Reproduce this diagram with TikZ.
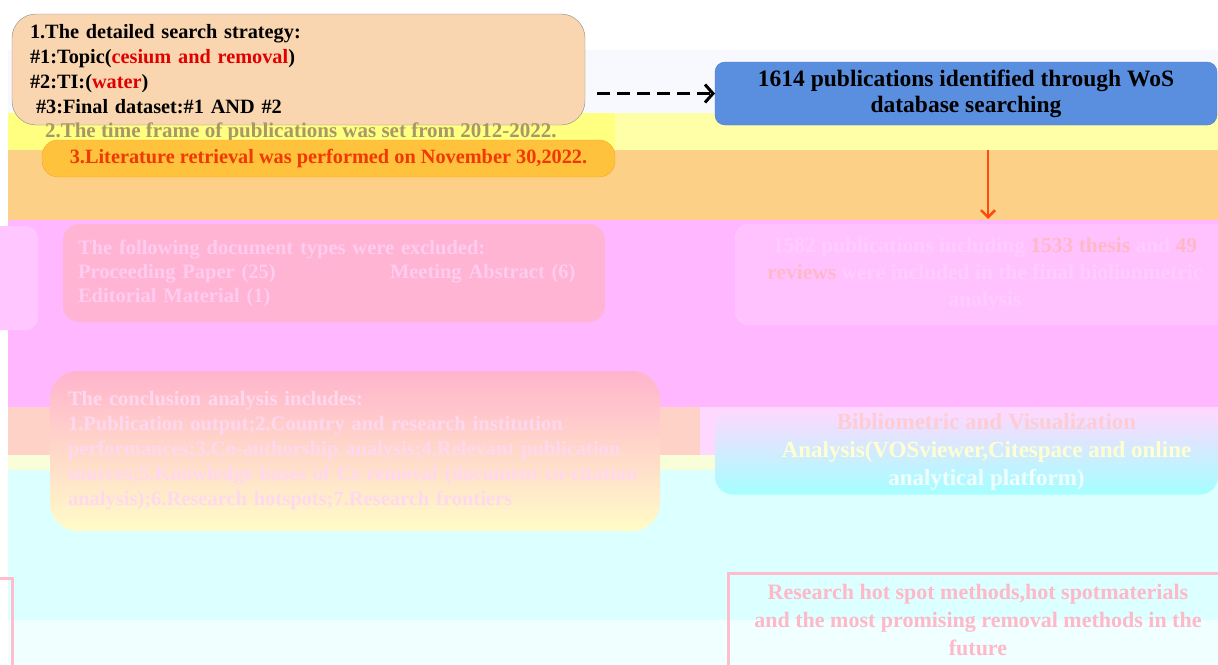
\documentclass[tikz,border=0pt]{standalone}
\usepackage{fontspec}
\setmainfont{Liberation Serif}
\usetikzlibrary{arrows.meta}
\definecolor{bgLav}{HTML}{F8F8FF}
\definecolor{bgYel}{HTML}{FFFFA8}
\definecolor{bgYelB}{HTML}{FFFF80}
\definecolor{bgOra}{HTML}{FDD088}
\definecolor{bgPink}{HTML}{FFB8FF}
\definecolor{bgPeach}{HTML}{FFD2C8}
\definecolor{bgLavB}{HTML}{FFD8FF}
\definecolor{bgLYel}{HTML}{F8FFD8}
\definecolor{bgCyan}{HTML}{DCFFFF}
\definecolor{bgCyanL}{HTML}{F0FFFF}
\definecolor{searchFill}{HTML}{F9D5B0}
\definecolor{searchLine}{HTML}{8A8A8A}
\definecolor{kwRed}{HTML}{E00000}
\definecolor{timeCol}{HTML}{A89868}
\definecolor{retrFill}{HTML}{FFC23C}
\definecolor{retrLine}{HTML}{FFA020}
\definecolor{retrText}{HTML}{F03800}
\definecolor{wosFill}{HTML}{5A8FE0}
\definecolor{wosLine}{HTML}{4A78C8}
\definecolor{arrRed}{HTML}{FF4A10}
\definecolor{exclFill}{HTML}{FFB4D4}
\definecolor{exclText}{HTML}{FFCCF0}
\definecolor{inclFill}{HTML}{FFC2FF}
\definecolor{inclText}{HTML}{FFCCFF}
\definecolor{inclNum}{HTML}{FFB8C8}
\definecolor{conTop}{HTML}{FFB4CC}
\definecolor{conMid}{HTML}{FFCCA8}
\definecolor{conBot}{HTML}{FFFCC8}
\definecolor{conText}{HTML}{FFD8F0}
\definecolor{bibTop}{HTML}{FFD8FF}
\definecolor{bibBot}{HTML}{A4FFFF}
\definecolor{bibOne}{HTML}{FFCCD4}
\definecolor{bibTwo}{HTML}{FFFFD0}
\definecolor{bibThree}{HTML}{F0FFFF}
\definecolor{resLine}{HTML}{FFBCCB}
\definecolor{resText}{HTML}{FFB8C8}
\definecolor{sideFill}{HTML}{FFC6FF}
\begin{document}
\begin{tikzpicture}[x=1pt,y=-1pt,
  font=\bfseries\fontsize{20.3}{25}\selectfont,
  boxbase/.style={inner sep=0pt, outer sep=0pt},
  dasharrow/.style={draw=black, line width=3.5pt, dash pattern=on 13pt off 7pt,
    -{Straight Barb[length=8pt,width=18pt,line width=3pt]}},
  redarrow/.style={draw=arrRed, line width=2.5pt,
    -{Straight Barb[length=7pt,width=14pt,line width=2.5pt]}}]
\useasboundingbox (0,0) rectangle (1218,664);
% background bands
\fill[white] (0,0) rectangle (1218,664);
\fill[bgLav] (8,50) rectangle (1218,113);
\fill[bgYel] (8,113) rectangle (1218,150);
\fill[bgYelB] (8,113) rectangle (615,150);
\fill[bgOra] (8,150) rectangle (1218,220);
\fill[bgPink] (8,220) rectangle (1218,407);
\fill[bgPeach] (8,407) rectangle (700,455);
\fill[bgLavB] (700,407) rectangle (1218,455);
\fill[bgLYel] (8,455) rectangle (1218,470);
\fill[bgCyan] (8,470) rectangle (1218,620);
\fill[bgCyanL] (8,620) rectangle (1218,664);
% side shapes
\fill[sideFill, rounded corners=12pt] (-20,226) rectangle (38,330);
\draw[resLine, line width=3pt] (-200,578) rectangle (12,700);
% search strategy
\node[boxbase, draw=searchLine, fill=searchFill, rounded corners=24pt,
  minimum width=573pt, minimum height=111pt, text width=537pt, align=left]
  (search) at (298.5,69.5)
  {1.The detailed search strategy:\\
   \#1:Topic(\textcolor{kwRed}{cesium and removal})\\
   \#2:TI:(\textcolor{kwRed}{water})\\
   \hspace*{6pt}\#3:Final dataset:\#1 AND \#2};
\node[boxbase, anchor=west, text=timeCol, font=\bfseries\fontsize{21}{25}\selectfont]
  (time) at (45,132)
  {2.The time frame of publications was set from 2012-2022.};
\node[boxbase, draw=retrLine, fill=retrFill, rounded corners=16pt,
  minimum width=573pt, minimum height=37pt, text=retrText,
  font=\bfseries\fontsize{20.3}{25}\selectfont]
  (retr) at (328.5,158.5)
  {3.Literature retrieval was performed on November 30,2022.};
% WoS
\node[boxbase, draw=wosLine, fill=wosFill, rounded corners=10pt,
  minimum width=502pt, minimum height=63pt, align=center, text=black,
  font=\bfseries\fontsize{23.5}{26}\selectfont]
  (wos) at (966,93.5)
  {1614 publications identified through WoS\\database searching};
% included
\node[boxbase, fill=inclFill, draw=inclText, rounded corners=15pt,
  minimum width=500pt, minimum height=101pt, align=center, text=inclText,
  font=\bfseries\fontsize{21.5}{27}\selectfont]
  (incl) at (985,274.5)
  {1582 publications including \textcolor{inclNum}{1533 thesis} and \textcolor{inclNum}{49}\\
   \textcolor{inclNum}{reviews} were included in the final biolionmetric\\
   analysis};
% excluded
\node[boxbase, fill=exclFill, rounded corners=16pt,
  minimum width=542pt, minimum height=98pt, text width=512pt, align=left,
  text=exclText, font=\bfseries\fontsize{20.5}{24}\selectfont]
  (excl) at (334,273)
  {The following document types were excluded:\\
   \makebox[312pt][l]{Proceeding Paper (25)}Meeting Abstract (6)\\
   Editorial Material (1)};
% conclusion
\node[boxbase, rounded corners=28pt, top color=conTop, middle color=conMid,
  bottom color=conBot, minimum width=610pt, minimum height=160pt,
  text width=574pt, align=left, text=conText,
  font=\bfseries\fontsize{20.5}{25}\selectfont]
  (concl) at (355,451)
  {The conclusion analysis includes:\\
   1.Publication output;2.Country and research institution\\
   \mbox{performances;3.Co-authorship analysis;4.Relevant publication}\\
   \mbox{sources;5.Knowledge bases of Cs removal (document co-citation}\\
   analysis);6.Research hotspots;7.Research frontiers};
% bibliometric
\node[boxbase, rounded corners=18pt, top color=bibTop, bottom color=bibBot,
  minimum width=503pt, minimum height=85pt, align=center,
  font=\bfseries\fontsize{23}{28}\selectfont]
  (bib) at (966.5,452)
  {\textcolor{bibOne}{\hspace*{40pt}Bibliometric and Visualization}\\
   \textcolor{bibTwo}{\hspace*{40pt}Analysis(VOSviewer,Citespace and online}\\
   \textcolor{bibThree}{\hspace*{40pt}analytical platform)}};
% research
\node[boxbase, draw=resLine, line width=3pt, anchor=north,
  minimum width=500pt, inner ysep=11pt, align=center,
  text=resText, font=\bfseries\fontsize{22}{28}\selectfont]
  (res) at (978,573)
  {Research hot spot methods,hot spotmaterials\\
   and the most promising removal methods in the\\
   future};
% connectors
\coordinate (ax) at (988,0);
\draw[dasharrow, shorten <=12pt] (search.east |- wos.west) -- (wos.west);
\draw[redarrow, shorten <=25pt, shorten >=5pt] (wos.south -| ax) -- (incl.north -| ax);
\end{tikzpicture}
\end{document}
